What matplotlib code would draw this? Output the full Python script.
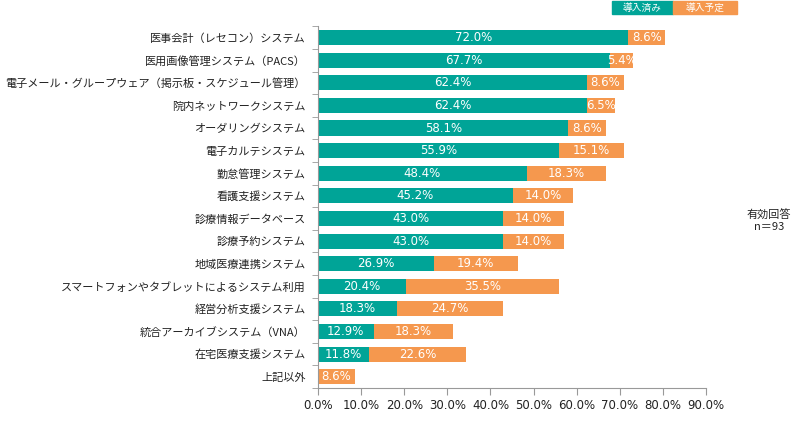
import numpy as np
import matplotlib.pyplot as plt
from matplotlib.ticker import FixedLocator, PercentFormatter

plt.rcParams['font.family'] = ['Noto Sans CJK JP', 'DejaVu Sans']

categories = [
    "医事会計（レセコン）システム",
    "医用画像管理システム（PACS）",
    "電子メール・グループウェア（掲示板・スケジュール管理）",
    "院内ネットワークシステム",
    "オーダリングシステム",
    "電子カルテシステム",
    "勤怠管理システム",
    "看護支援システム",
    "診療情報データベース",
    "診療予約システム",
    "地域医療連携システム",
    "スマートフォンやタブレットによるシステム利用",
    "経営分析支援システム",
    "統合アーカイブシステム（VNA）",
    "在宅医療支援システム",
    "上記以外",
]
installed = [72.0, 67.7, 62.4, 62.4, 58.1, 55.9, 48.4, 45.2, 43.0, 43.0,
             26.9, 20.4, 18.3, 12.9, 11.8, 0.0]
planned = [8.6, 5.4, 8.6, 6.5, 8.6, 15.1, 18.3, 14.0, 14.0, 14.0,
           19.4, 35.5, 24.7, 18.3, 22.6, 8.6]
series_names = ["導入済み", "導入予定"]
xticks = [0, 10, 20, 30, 40, 50, 60, 70, 80, 90]

teal = "#00A497"
orange = "#F5984E"

fig = plt.figure(figsize=(8, 4.25), dpi=100)
ax = fig.add_axes([0.3975, 0.087, 0.485, 0.851])

y = np.arange(len(categories))
b1 = ax.barh(y, installed, height=0.67, color=teal)
b2 = ax.barh(y, planned, left=installed, height=0.67, color=orange)

for vals, lefts in [(installed, [0] * len(installed)), (planned, installed)]:
    for yi, v, l in zip(y, vals, lefts):
        if v > 0:
            ax.text(l + v / 2, yi, f"{v:.1f}%", ha="center", va="center",
                    color="white", fontsize=8.5, family="DejaVu Sans")

ax.set_ylim(len(categories) - 0.5, -0.5)
ax.set_xlim(0, 90)
ax.set_yticks(y)
ax.set_yticklabels(categories, fontsize=8, color="#222222")
ax.tick_params(axis="y", length=0, pad=9)
ax.yaxis.set_minor_locator(FixedLocator(np.arange(-0.5, len(categories), 1)))
ax.tick_params(axis="y", which="minor", length=4, color="#999999", direction="out")

ax.set_xticks(xticks)
ax.xaxis.set_major_formatter(PercentFormatter(decimals=1))
ax.tick_params(axis="x", length=5, color="#999999", labelsize=8.5, pad=3,
               labelcolor="#222222")
for lab in ax.get_xticklabels():
    lab.set_family("DejaVu Sans")

for s in ["top", "right"]:
    ax.spines[s].set_visible(False)
for s in ["left", "bottom"]:
    ax.spines[s].set_color("#999999")
    ax.spines[s].set_linewidth(0.8)

# legend boxes
fig.patches.append(plt.Rectangle((612 / 800, 1 - 14 / 425), 61 / 800, 13 / 425,
                                 transform=fig.transFigure, color=teal))
fig.patches.append(plt.Rectangle((673 / 800, 1 - 14 / 425), 64 / 800, 13 / 425,
                                 transform=fig.transFigure, color=orange))
fig.text(642.5 / 800, 1 - 7.5 / 425, series_names[0], ha="center", va="center",
         color="white", fontsize=7)
fig.text(705 / 800, 1 - 7.5 / 425, series_names[1], ha="center", va="center",
         color="white", fontsize=7)

fig.text(769 / 800, 1 - 221 / 425, "有効回答\nn＝93", ha="center", va="center",
         fontsize=8, color="#222222", linespacing=1.1)

fig.savefig("out.png", dpi=100)
